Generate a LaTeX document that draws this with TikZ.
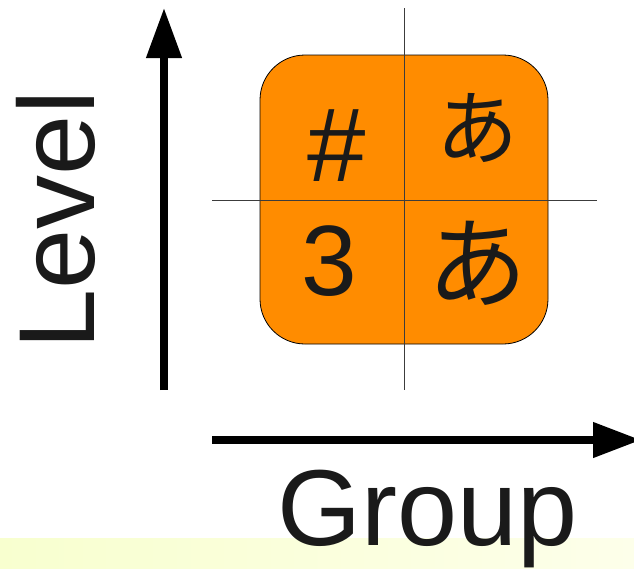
\documentclass[tikz,border=0pt]{standalone}
\usepackage{fontspec}
\setmainfont{Liberation Sans}
\newfontfamily\cjk{Noto Sans CJK JP}
\usetikzlibrary{arrows.meta}
\definecolor{ink}{HTML}{1A1A1A}
\definecolor{cellfill}{HTML}{FF8C00}
\definecolor{bandleft}{HTML}{F8FFCF}
\definecolor{bandright}{HTML}{FDFFEA}
\tikzset{
  axis/.style={line width=7.5pt, -{Triangle[length=#1,width=34pt]}},
  gridline/.style={line width=1pt, draw=ink!85},
  glyph/.style={inner sep=0pt, text=ink},
  label/.style={inner sep=0pt, text=ink, font=\fontsize{108}{114}\selectfont},
}
\begin{document}
\begin{tikzpicture}[x=1pt,y=-1pt]
\useasboundingbox (0,0) rectangle (634,568);
% pale band along the bottom edge
\shade[left color=bandleft, right color=bandright] (0,538) rectangle (634,568);

% rounded cell block
\node (box) [draw=black, line width=0.8pt, fill=cellfill, rounded corners=45pt,
  minimum width=288pt, minimum height=289pt, inner sep=0pt] at (404,199.5) {};

% cross lines through the block
\coordinate (vtop) at (404,8);
\coordinate (vbot) at (404,390);
\coordinate (hleft) at (212,200);
\coordinate (hright) at (597,200);
\draw[gridline] (vtop) -- (vbot);
\draw[gridline] (hleft) -- (hright);

% cell contents
\node (hash) [glyph, font=\fontsize{105}{110}\selectfont] at (337,146) {\#};
\node (three) [glyph, font=\fontsize{100}{110}\selectfont] at (329,261) {3};
\node (atop) [glyph, font=\cjk\fontsize{82}{90}\selectfont] at (477,127.5) {あ};
\node (abot) [glyph, font=\cjk\fontsize{100}{110}\selectfont] at (477,263) {あ};

% axes
\coordinate (ybase) at (164,390);
\coordinate (ytip) at (164,8);
\coordinate (xbase) at (212,440);
\coordinate (xtip) at (641,440);
\draw[axis=50pt] (ybase) -- (ytip);
\draw[axis=48pt] (xbase) -- (xtip);

% axis titles
\node (level) [label, rotate=90] at (56,220) {Level};
\node (group) [label, anchor=base] at (427.5,545) {Group};
\end{tikzpicture}
\end{document}
